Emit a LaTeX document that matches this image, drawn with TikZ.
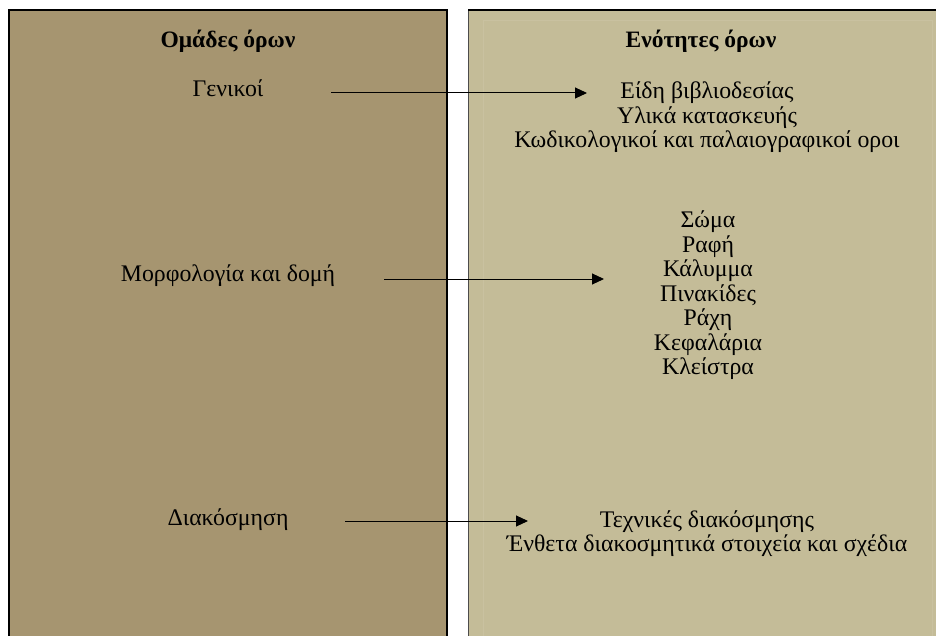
\documentclass[tikz,border=0pt]{standalone}
\usepackage{fontspec}
\setmainfont{Liberation Serif}
\definecolor{panelleft}{RGB}{166,149,112}
\definecolor{panelright}{RGB}{196,188,152}
\usetikzlibrary{arrows.meta,positioning}

\begin{document}
\begin{tikzpicture}[x=1pt,y=-1pt,
  panel/.style={draw=black,line width=1.2pt},
  head/.style={font=\fontsize{23.5}{26}\selectfont\bfseries,anchor=center},
  item/.style={font=\fontsize{23.8}{24.5}\selectfont,align=center,anchor=center},
  arr/.style={-{Triangle[length=12pt,width=11pt]},line width=1pt}
]
  \useasboundingbox (0,0) rectangle (936,636);
  \clip (0,0) rectangle (936,636);

  % Panels
  \fill[panelleft] (9,10) rectangle (447,640);
  \draw[panel] (9,640) -- (9,10) -- (447,10) -- (447,640);
  \fill[panelright] (468,10) rectangle (940,640);
  \draw[panelright!92!white,line width=0.8pt] (483,650) -- (483,20) -- (932,20) -- (932,650);
  \draw[panel,draw=black!70,line width=1pt] (468,640) -- (468,10);
  \draw[panel] (468,10) -- (940,10);

  % Headings
  \node[head] (groups) at (228,41) {Ομάδες όρων};
  \node[head] (units) at (701,41) {Ενότητες όρων};

  % Left column
  \node[item] (general) at (228,88) {Γενικοί};
  \node[item] (morph) at (228,276) {Μορφολογία και δομή};
  \node[item] (decor) at (228,520) {Διακόσμηση};

  % Right column
  \node[item] (generalR) at (707,117.5) {Είδη βιβλιοδεσίας\\Υλικά κατασκευής\\Κωδικολογικοί και παλαιογραφικοί οροι};
  \node[item] (morphR) at (708,295.5) {Σώμα\\ Ραφή\\Κάλυμμα\\Πινακίδες\\Ράχη\\Κεφαλάρια\\Κλείστρα};
  \node[item] (decorR) at (707,533.5) {Τεχνικές διακόσμησης\\Ένθετα διακοσμητικά στοιχεία και σχέδια};

  % Arrows
  \coordinate (a1s) at (331,93);  \coordinate (a1e) at (587,93);
  \coordinate (a2s) at (384,279); \coordinate (a2e) at (604,279);
  \coordinate (a3s) at (345,521); \coordinate (a3e) at (528,521);
  \draw[arr] (a1s) -- (a1e);
  \draw[arr] (a2s) -- (a2e);
  \draw[arr] (a3s) -- (a3e);
\end{tikzpicture}
\end{document}
